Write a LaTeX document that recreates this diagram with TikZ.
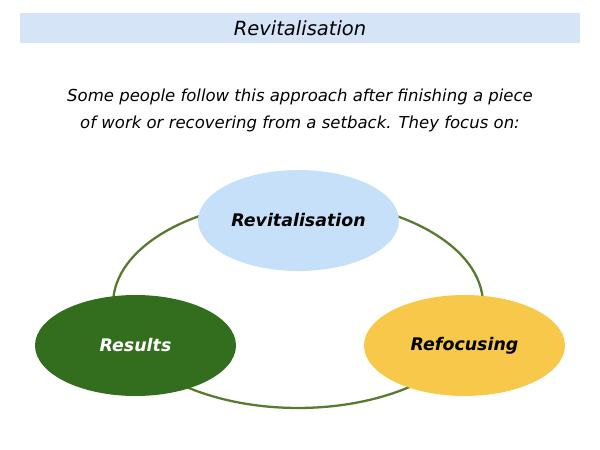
\documentclass[tikz,border=0pt]{standalone}
\usepackage{fontspec}
\setmainfont{DejaVu Sans}
\usetikzlibrary{shapes.geometric, positioning}

\definecolor{barblue}{RGB}{214,228,248}
\definecolor{softblue}{RGB}{198,224,250}
\definecolor{leafgreen}{RGB}{51,110,30}
\definecolor{sungold}{RGB}{247,200,74}
\definecolor{olive}{RGB}{88,122,48}

\begin{document}
\begin{tikzpicture}[
    x=0.02cm, y=-0.02cm,
    banner/.style={
        rectangle, fill=barblue,
        minimum width=11.2cm, minimum height=0.6cm,
        font=\fontsize{11.1}{13}\selectfont\itshape},
    intro/.style={
        text centered, align=center,
        font=\fontsize{9.4}{15.3}\selectfont\itshape},
    phase/.style={
        ellipse, minimum width=4.02cm, minimum height=2.02cm,
        inner sep=0pt, font=\fontsize{9.9}{12}\selectfont\bfseries\itshape},
    ring/.style={
        ellipse, draw=olive, line width=1.3pt,
        minimum width=7.4cm, minimum height=4.16cm, inner sep=0pt}]

\useasboundingbox (0,0) rectangle (600,450);

\node[banner]              (title) at (300,28)  {Revitalisation};
\node[intro]               (lead)  at (300,110.5) {Some people follow this approach after finishing a piece\\
of work or recovering from a setback. They focus on:};

% cycle behind the three phases
\node[ring]                (cycle) at (298,304) {};

\node[phase, fill=softblue]              (revit)  at (298.5,220.5) {Revitalisation};
\node[phase, fill=leafgreen, text=white] (result) at (135.5,345.5) {Results};
\node[phase, fill=sungold]               (refoc)  at (464.5,345.5) {Refocusing};

\end{tikzpicture}
\end{document}
